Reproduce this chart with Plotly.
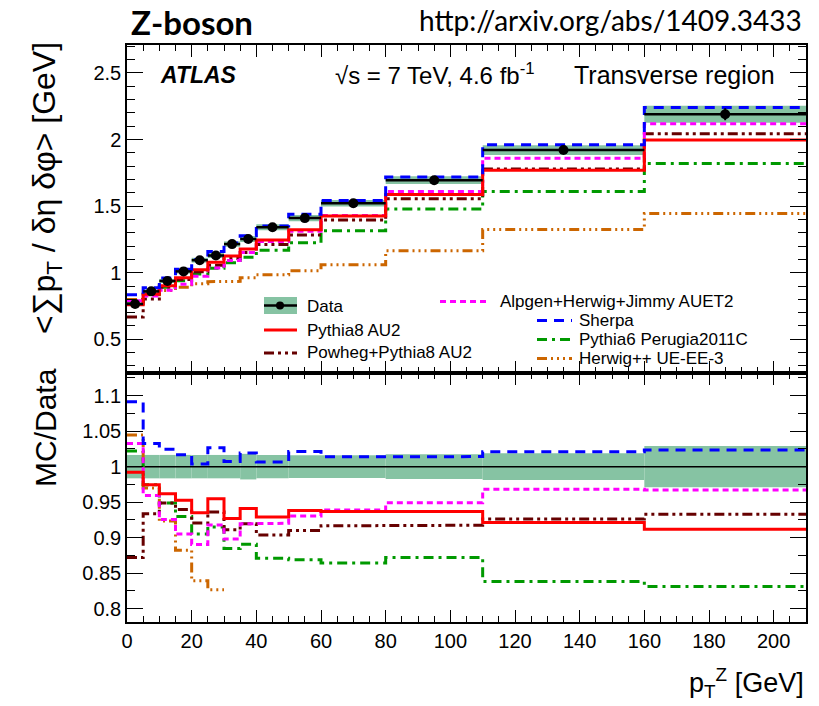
import plotly.graph_objects as go

# ---------------- data ----------------
edges = [0, 5, 10, 15, 20, 25, 30, 35, 40, 50, 60, 80, 110, 160, 210]
data = [0.765, 0.860, 0.938, 1.010, 1.094, 1.129, 1.215, 1.253, 1.341, 1.410, 1.522, 1.695, 1.921, 2.190]
data_stat = [0.004, 0.004, 0.004, 0.004, 0.005, 0.005, 0.005, 0.006, 0.006, 0.007, 0.008, 0.010, 0.018, 0.045]
data_band = [0.0126, 0.0142, 0.0155, 0.0167, 0.018, 0.0186, 0.020, 0.0226, 0.0221, 0.0226, 0.0244, 0.0297, 0.0365, 0.0635]

pythia8 = [0.759, 0.838, 0.902, 0.962, 1.023, 1.078, 1.126, 1.179, 1.246, 1.323, 1.426, 1.588, 1.770, 1.997]
powheg = [0.667, 0.803, 0.890, 0.949, 1.007, 1.057, 1.107, 1.152, 1.212, 1.283, 1.395, 1.555, 1.779, 2.043]
alpgen = [0.790, 0.825, 0.868, 0.914, 0.974, 1.036, 1.091, 1.152, 1.234, 1.312, 1.429, 1.609, 1.860, 2.118]
sherpa = [0.835, 0.888, 0.961, 1.027, 1.098, 1.159, 1.224, 1.277, 1.350, 1.440, 1.543, 1.719, 1.961, 2.241]
pythia6 = [0.782, 0.838, 0.890, 0.939, 0.990, 1.033, 1.075, 1.116, 1.168, 1.225, 1.315, 1.478, 1.610, 1.820]
herwig = [0.799, 0.834, 0.866, 0.891, 0.918, 0.933, 0.935, 0.962, 0.985, 1.015, 1.060, 1.165, 1.325, 1.445]

series = [
    ("Herwig++ UE-EE-3", herwig, "#cc6600", "10px,4px,2px,4px,2px,4px,2px,4px", 3),
    ("Pythia6 Perugia2011C", pythia6, "#009900", "10px,5px,3px,5px", 3),
    ("Powheg+Pythia8 AU2", powheg, "#660000", "10px,4px,3px,4px,3px,4px", 3),
    ("Alpgen+Herwig+Jimmy AUET2", alpgen, "#ff00ff", "6px,4px", 3),
    ("Pythia8 AU2", pythia8, "#ff0000", "solid", 3),
    ("Sherpa", sherpa, "#0000ff", "10px,7px", 3),
]

BAND = "#86c3a3"
FONT = "Liberation Sans"
RATIO_RANGE = [0.781, 1.132]

centers = [(edges[i] + edges[i + 1]) / 2 for i in range(len(data))]
widths = [edges[i + 1] - edges[i] for i in range(len(data))]
halfw = [w / 2 for w in widths]


def step_xy(vals, lo=None):
    """Histogram outline; bins below `lo` are not drawn (as in ROOT)."""
    xs, ys = [], []
    for i, v in enumerate(vals):
        if lo is not None and v < lo:
            xs.append(None)
            ys.append(None)
            continue
        xs += [edges[i], edges[i + 1]]
        ys += [v, v]
    return xs, ys


fig = go.Figure()

# data systematic band (top)
fig.add_trace(go.Bar(x=centers, y=[2 * e for e in data_band],
                     base=[d - e for d, e in zip(data, data_band)],
                     width=widths, marker=dict(color=BAND, line=dict(width=0)),
                     showlegend=False, xaxis="x", yaxis="y"))
# ratio band
rel = [e / d for d, e in zip(data, data_band)]
fig.add_trace(go.Bar(x=centers, y=[2 * r for r in rel], base=[1 - r for r in rel],
                     width=widths, marker=dict(color=BAND, line=dict(width=0)),
                     showlegend=False, xaxis="x2", yaxis="y2"))

# ratio reference line (data/data)
ratio_data = [d / d for d in data]
rx, ry = step_xy(ratio_data)
fig.add_trace(go.Scatter(x=rx, y=ry, mode="lines", line=dict(color="black", width=1.5),
                         showlegend=False, xaxis="x2", yaxis="y2"))

for name, vals, col, dash, w in series:
    sx, sy = step_xy(vals)
    fig.add_trace(go.Scatter(x=sx, y=sy, mode="lines", name=name,
                             line=dict(color=col, width=w, dash=dash),
                             showlegend=False, xaxis="x", yaxis="y"))
    r = [v / d for v, d in zip(vals, data)]
    sx, sy = step_xy(r, lo=RATIO_RANGE[0])
    fig.add_trace(go.Scatter(x=sx, y=sy, mode="lines", name=name,
                             line=dict(color=col, width=w, dash=dash),
                             showlegend=False, xaxis="x2", yaxis="y2"))

# data points
fig.add_trace(go.Scatter(x=centers, y=data, mode="markers", name="Data",
                         marker=dict(color="black", size=10),
                         error_x=dict(type="data", array=halfw, color="black", thickness=2.5, width=0),
                         error_y=dict(type="data", array=data_stat, color="black", thickness=2, width=0),
                         showlegend=False, xaxis="x", yaxis="y"))

# ---------------- layout ----------------
L, R, T, B = 127, 806, 45, 622
W, H = 819, 706
split = 373
dom_split = (B - split) / (B - T)


def px(x):
    return (x - L) / (R - L)


def py(y):
    return (B - y) / (B - T)


axis_common = dict(showline=True, linecolor="black", linewidth=1.5, mirror="allticks",
                   ticks="inside", tickcolor="black", showgrid=False, zeroline=False,
                   tickfont=dict(family=FONT, size=20, color="black"))

fig.update_layout(
    width=W, height=H, margin=dict(l=L, r=W - R, t=T, b=H - B),
    paper_bgcolor="white", plot_bgcolor="white", barmode="overlay", showlegend=False,
    xaxis=dict(domain=[0, 1], anchor="y", range=[0, 210], dtick=20, tick0=0, ticklen=12,
               showticklabels=False, matches="x2",
               minor=dict(dtick=5, ticklen=6, ticks="inside", tickcolor="black"), **axis_common),
    yaxis=dict(domain=[dom_split, 1], anchor="x", range=[0.247, 2.71], dtick=0.5, tick0=0,
               ticklen=16, minor=dict(dtick=0.1, ticklen=8, ticks="inside", tickcolor="black"),
               **axis_common),
    xaxis2=dict(domain=[0, 1], anchor="y2", range=[0, 210], dtick=20, tick0=0, ticklen=12,
                minor=dict(dtick=5, ticklen=6, ticks="inside", tickcolor="black"), **axis_common),
    yaxis2=dict(domain=[0, dom_split], anchor="x2", range=RATIO_RANGE, dtick=0.05, tick0=0.8,
                ticklen=16, minor=dict(dtick=0.025, ticklen=8, ticks="inside", tickcolor="black"),
                **axis_common),
)

ann = []
shapes = []

# titles
ann.append(dict(text="<b>Z-boson</b>", x=px(129), y=py(22), xanchor="left", yanchor="middle",
                font=dict(family="Lato", size=33, color="black")))
ann.append(dict(text="http://arxiv.org/abs/1409.3433", x=px(804), y=py(20), xanchor="right",
                yanchor="middle", font=dict(family="Lato", size=28, color="black")))
ann.append(dict(text="<b><i>ATLAS</i></b>", x=px(158), y=py(75), xanchor="left", yanchor="middle",
                font=dict(family=FONT, size=23, color="black")))
ann.append(dict(text="√s = 7 TeV, 4.6 fb<sup>-1</sup>", x=px(333), y=py(74), xanchor="left",
                yanchor="middle", font=dict(family=FONT, size=24, color="black")))
ann.append(dict(text="Transverse region", x=px(777), y=py(75), xanchor="right", yanchor="middle",
                font=dict(family=FONT, size=25, color="black")))

# axis titles
ann.append(dict(text="&lt;∑p<sub>T</sub> / δη δφ&gt; [GeV]", x=px(46), y=py(188), textangle=-90,
                xanchor="center", yanchor="middle", font=dict(family=FONT, size=32, color="black")))
ann.append(dict(text="MC/Data", x=px(46), y=py(428), textangle=-90,
                xanchor="center", yanchor="middle", font=dict(family=FONT, size=30, color="black")))
ann.append(dict(text="p<sub>T</sub><sup>Z</sup> [GeV]", x=px(806), y=py(683), xanchor="right",
                yanchor="middle", font=dict(family=FONT, size=27, color="black")))

# legend (drawn manually)
LEG_SIZE = 16
shapes.append(dict(type="rect", xref="paper", yref="paper", x0=px(264), x1=px(297),
                   y0=py(314), y1=py(297), fillcolor=BAND, line=dict(width=0)))
shapes.append(dict(type="line", xref="paper", yref="paper", x0=px(264), x1=px(297),
                   y0=py(305.5), y1=py(305.5), line=dict(color="black", width=2.5)))
shapes.append(dict(type="circle", xref="paper", yref="paper", x0=px(276), x1=px(284),
                   y0=py(309.5), y1=py(301.5), fillcolor="black", line=dict(color="black", width=0)))
ann.append(dict(text="Data", x=px(305), y=py(306), xanchor="left", yanchor="middle",
                font=dict(family=FONT, size=LEG_SIZE + 1, color="black")))

leg_items = {
    "Pythia8 AU2": (264, 297, 330, 305),
    "Powheg+Pythia8 AU2": (264, 297, 353, 305),
    "Alpgen+Herwig+Jimmy AUET2": (440, 488, 301.5, 498),
    "Sherpa": (537, 572, 320.5, 577),
    "Pythia6 Perugia2011C": (537, 572, 339.5, 577),
    "Herwig++ UE-EE-3": (537, 572, 358.5, 577),
}
for name, vals, col, dash, w in series:
    x0, x1, yy, tx = leg_items[name]
    shapes.append(dict(type="line", xref="paper", yref="paper", x0=px(x0), x1=px(x1),
                       y0=py(yy), y1=py(yy), line=dict(color=col, width=w, dash=dash)))
    ann.append(dict(text=name, x=px(tx), y=py(yy), xanchor="left", yanchor="middle",
                    font=dict(family=FONT, size=LEG_SIZE + 1, color="black")))

for a in ann:
    a.setdefault("xref", "paper")
    a.setdefault("yref", "paper")
    a["showarrow"] = False

fig.update_layout(annotations=ann, shapes=shapes)
fig.write_html("out.html")
